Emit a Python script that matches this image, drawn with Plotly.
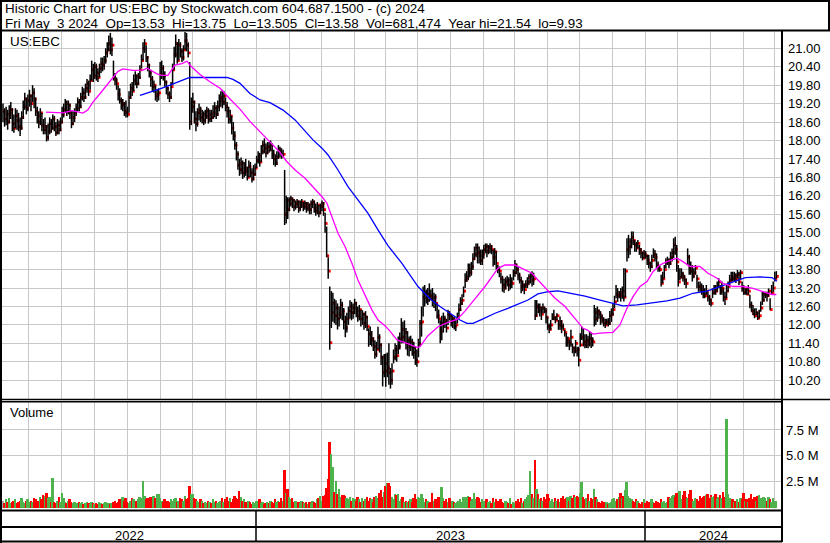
import plotly.graph_objects as go

W, H = 830, 543

# ---------------- data ----------------
high = [
    19.20,19.05,19.10,19.00,19.15,19.25,19.05,18.85,19.05,19.00,18.90,
    18.75,18.95,19.30,19.55,19.40,19.50,19.65,19.50,19.80,19.70,
    19.40,19.10,18.95,19.05,18.90,18.70,18.75,
    18.50,18.55,18.75,18.70,18.85,18.80,18.60,18.70,18.65,18.75,
    19.10,19.20,19.35,19.30,19.30,19.20,18.95,18.95,19.05,
    19.20,19.40,19.35,19.55,19.75,19.70,19.85,20.00,19.95,20.15,
    20.60,20.50,20.55,20.50,20.35,20.50,20.70,
    20.70,20.75,21.00,21.20,21.42,21.50,21.35,
    20.60,20.20,20.05,19.80,19.70,19.40,19.35,19.25,19.30,19.10,
    19.60,19.85,19.90,20.15,20.25,20.15,20.20,20.45,20.80,21.20,21.30,21.10,
    20.75,20.50,20.30,20.10,19.95,19.80,19.65,19.70,
    20.55,20.60,20.45,20.25,19.95,
    19.75,19.60,19.90,20.50,21.05,21.45,21.20,21.30,21.20,
    21.00,21.10,21.54,21.50,21.20,
    20.55,
    19.40,19.55,19.30,18.95,19.05,19.20,19.10,19.00,18.95,19.00,19.10,19.05,19.00,19.00,
    19.15,19.25,19.15,19.30,19.50,19.60,19.65,19.60,19.40,19.25,19.10,19.00,
    18.80,18.60,18.30,17.95,17.65,17.40,17.45,17.35,17.30,
    17.40,17.15,17.35,17.30,17.10,17.20,17.25,
    17.50,17.65,17.60,17.85,18.00,18.07,17.90,17.95,17.95,18.00,17.90,17.70,17.55,17.65,17.85,17.80,17.75,17.70,
    17.04,16.20,16.15,
    16.15,16.20,16.15,16.10,16.05,16.10,16.05,16.05,16.10,16.00,16.05,16.00,16.00,15.95,
    16.05,16.10,16.05,15.95,16.00,15.90,15.95,16.05,16.00,
    15.65,15.20,14.20,
    13.25,
    13.10,13.05,12.85,12.80,12.70,12.60,12.85,12.75,12.55,12.30,12.40,12.60,12.80,12.75,12.70,12.85,12.75,12.60,12.65,
    12.50,12.48,12.40,12.45,12.30,
    11.89,11.95,11.80,11.60,11.50,11.45,
    11.94,11.70,11.40,11.00,11.05,11.07,11.10,11.40,10.60,10.75,
    11.20,11.40,11.35,11.62,11.75,
    12.22,12.10,12.15,11.90,11.80,11.62,11.65,11.55,
    11.45,11.30,11.20,
    11.55,12.16,12.60,
    13.25,13.30,13.15,13.20,13.35,13.15,13.20,13.05,13.00,
    12.70,12.50,12.15,12.30,
    12.40,12.30,12.20,12.49,12.45,12.35,12.30,12.25,12.20,
    12.40,12.70,12.90,13.00,13.25,13.68,13.75,
    14.00,14.00,14.05,14.33,14.55,14.65,14.65,
    14.55,14.45,14.45,14.60,14.65,14.65,14.60,14.66,14.60,14.45,14.50,14.40,
    13.95,13.90,13.70,13.60,13.50,13.55,13.60,13.55,13.65,13.55,
    13.80,14.11,14.00,13.90,
    13.70,13.57,13.45,13.35,13.45,13.55,13.65,13.68,13.75,13.70,
    12.81,12.81,12.70,12.70,12.60,12.70,12.60,
    12.55,12.27,12.05,12.16,12.38,12.49,12.27,12.38,
    12.16,12.27,12.16,12.05,11.84,11.73,11.62,11.51,11.84,
    11.40,11.29,11.51,11.29,11.29,11.73,11.94,11.89,11.70,
    11.70,11.65,11.80,11.75,11.60,
    12.65,12.55,12.60,12.50,12.45,12.35,12.25,12.20,12.20,12.22,12.45,12.54,
    12.70,12.95,13.30,13.20,13.10,13.20,13.25,13.84,13.84,
    14.82,14.93,14.82,15.04,15.04,
    14.76,14.70,14.76,14.60,14.50,14.38,14.44,14.40,14.28,
    14.28,14.06,14.28,14.49,14.44,14.33,14.06,13.95,
    13.63,13.73,13.95,14.17,
    14.22,14.17,14.38,14.49,14.82,14.87,14.60,13.95,13.84,
    13.84,13.73,13.63,13.52,14.49,14.28,
    14.06,13.95,13.84,13.95,13.63,13.41,13.41,13.35,
    13.30,13.19,13.30,13.08,12.98,12.87,13.19,13.30,13.30,
    13.41,13.52,13.30,13.41,13.19,13.08,13.30,13.41,13.63,13.73,13.73,
    13.73,13.68,13.79,13.73,13.79,13.41,
    13.30,13.19,13.19,13.30,12.98,12.76,
    12.65,12.54,12.54,12.43,12.49,12.76,13.08,
    13.08,13.08,13.08,13.19,12.87,13.30,13.41,13.73,13.75,
]

low = [
    18.60,18.45,18.50,18.35,18.55,18.70,18.30,18.25,18.40,18.35,18.30,
    18.15,18.35,18.70,19.00,18.85,18.95,19.10,18.95,19.25,19.05,
    18.80,18.55,18.40,18.50,18.30,18.20,18.20,
    17.97,18.00,18.20,18.25,18.35,18.30,18.15,18.20,18.20,18.30,
    18.55,18.75,18.90,18.80,18.85,18.70,18.40,18.50,18.60,
    18.80,18.95,18.95,19.05,19.30,19.25,19.35,19.55,19.45,19.65,
    19.95,19.90,20.00,19.95,19.90,20.05,20.20,
    20.25,20.30,20.50,20.70,20.90,20.80,20.75,
    19.95,19.80,19.65,19.30,19.20,19.00,18.95,18.80,18.75,18.75,
    18.90,19.35,19.45,19.60,19.80,19.70,19.80,20.00,20.35,20.60,20.85,20.55,
    20.25,20.05,19.75,19.60,19.55,19.30,19.25,19.30,
    19.80,20.00,19.95,19.75,19.50,
    19.35,19.25,19.35,19.80,20.30,20.70,20.50,20.60,20.70,
    20.55,20.60,20.95,20.90,20.70,
    18.35,
    18.50,18.90,18.55,18.30,18.45,18.65,18.60,18.55,18.50,18.55,18.70,18.55,18.60,18.60,
    18.70,18.75,18.70,18.80,18.95,19.10,19.05,19.15,18.95,18.75,18.55,18.55,
    18.20,18.00,17.70,17.35,17.05,16.85,16.90,16.75,16.80,
    16.85,16.70,16.80,16.80,16.63,16.70,16.85,
    17.10,17.25,17.15,17.30,17.55,17.58,17.45,17.55,17.60,17.65,17.40,17.20,17.15,17.20,17.40,17.45,17.40,17.45,
    15.25,15.30,15.45,
    15.70,15.85,15.80,15.70,15.75,15.80,15.65,15.70,15.80,15.70,15.75,15.65,15.70,15.60,
    15.60,15.80,15.65,15.55,15.60,15.50,15.60,15.70,15.55,
    15.00,14.20,13.50,
    11.19,
    11.90,12.10,12.05,12.00,11.85,11.95,12.20,12.15,11.85,11.60,11.75,12.00,12.20,12.15,12.20,12.35,12.25,12.10,12.15,
    11.95,12.00,11.84,11.90,11.80,
    11.29,11.35,11.30,11.15,10.90,10.95,
    11.20,11.10,10.70,10.00,10.30,9.99,10.30,10.05,9.93,10.05,
    10.75,10.85,10.80,11.05,11.20,
    11.40,11.40,11.45,11.20,11.00,10.97,11.15,11.00,
    10.90,10.70,10.64,
    10.95,11.29,11.62,
    12.27,12.60,12.70,12.65,12.75,12.80,12.60,12.55,12.45,
    12.20,12.05,11.40,11.50,
    11.75,11.90,11.75,12.00,12.15,11.95,11.90,11.85,11.80,
    12.05,12.27,12.45,12.65,12.90,13.20,13.40,
    13.45,13.55,13.60,13.79,14.11,14.20,14.00,
    14.00,13.95,13.95,14.15,14.33,14.20,14.30,14.33,14.30,13.90,13.95,13.80,
    13.68,13.55,13.35,13.08,13.05,13.15,13.25,13.10,13.15,13.20,
    13.45,13.57,13.65,13.45,
    13.35,13.03,13.10,13.00,13.20,13.20,13.30,13.35,13.25,13.30,
    12.16,12.27,12.38,12.27,12.16,12.38,12.38,
    12.05,11.84,11.73,11.84,12.16,12.16,12.05,12.16,
    11.84,11.84,11.73,11.84,11.62,11.29,11.29,11.18,11.29,
    11.08,10.97,11.08,10.97,10.65,11.29,11.51,11.30,11.24,
    11.25,11.24,11.30,11.25,11.30,
    11.95,12.00,12.10,12.20,12.00,12.05,11.95,11.90,12.00,11.95,12.00,12.10,
    12.30,12.55,12.87,12.75,12.87,12.76,12.85,12.76,12.90,
    14.06,14.17,14.28,14.49,14.60,
    14.38,14.38,14.49,14.28,14.17,14.10,14.17,14.15,13.95,
    13.84,13.73,13.84,14.17,14.06,13.84,13.73,13.73,
    13.25,13.35,13.52,13.84,
    13.95,13.84,13.95,14.06,14.17,14.28,13.73,13.25,13.45,
    13.52,13.41,13.30,13.19,13.95,13.63,
    13.63,13.41,13.52,13.63,13.19,13.08,13.08,12.98,
    12.87,12.87,12.98,12.76,12.65,12.60,12.87,12.98,12.98,
    13.08,13.19,12.98,12.98,12.76,12.65,12.87,13.08,13.30,13.41,13.41,
    13.41,13.36,13.52,13.30,13.46,13.08,
    12.98,12.98,12.98,12.98,12.54,12.43,
    12.32,12.22,12.32,12.16,12.22,12.43,12.65,
    12.76,12.87,12.76,12.92,12.49,12.98,13.08,13.41,13.505,
]

close = [
    18.95,18.70,18.85,18.60,18.90,19.00,18.55,18.40,18.80,18.65,18.45,
    18.40,18.75,19.10,19.35,19.05,19.30,19.45,19.20,19.55,19.35,
    18.95,18.80,18.60,18.90,18.50,18.35,18.45,
    18.10,18.30,18.55,18.40,18.70,18.45,18.25,18.50,18.35,18.60,
    18.85,19.00,19.20,18.95,19.15,18.90,18.55,18.75,18.90,
    19.05,19.25,19.10,19.40,19.55,19.40,19.70,19.85,19.60,19.95,
    20.30,20.10,20.40,20.20,20.05,20.35,20.50,
    20.45,20.60,20.85,20.95,21.15,20.95,21.10,
    20.05,19.95,19.85,19.50,19.30,19.15,19.20,18.95,18.90,18.85,
    19.40,19.70,19.60,19.95,20.10,19.85,20.05,20.30,20.60,21.00,21.15,20.70,
    20.45,20.20,20.00,19.75,19.80,19.45,19.50,19.55,
    20.15,20.35,20.10,19.90,19.70,
    19.50,19.40,19.75,20.30,20.80,21.15,20.60,21.10,20.90,
    20.70,20.95,21.25,21.10,20.85,
    18.60,
    19.10,19.25,18.70,18.55,18.90,19.00,18.75,18.85,18.65,18.80,18.95,18.70,18.85,18.75,
    18.90,19.05,18.85,19.10,19.30,19.40,19.25,19.45,19.10,18.95,18.70,18.80,
    18.40,18.15,17.85,17.55,17.20,17.05,17.25,16.95,17.10,
    17.00,16.80,17.15,16.95,16.75,16.90,17.10,
    17.35,17.50,17.30,17.65,17.85,17.75,17.60,17.80,17.70,17.85,17.55,17.40,17.25,17.45,17.70,17.60,17.50,17.55,
    15.60,16.05,15.75,
    15.95,16.10,16.05,15.85,15.95,16.00,15.80,15.90,16.00,15.85,15.95,15.80,15.90,15.75,
    15.95,16.00,15.80,15.70,15.90,15.65,15.85,15.95,15.75,
    15.30,14.25,13.75,
    11.42,
    12.40,12.70,12.30,12.55,12.20,12.35,12.65,12.45,12.10,11.90,12.20,12.45,12.60,12.40,12.55,12.70,12.45,12.30,12.50,
    12.20,12.35,12.05,12.25,11.95,
    11.70,11.50,11.55,11.30,11.05,11.20,
    11.60,11.35,10.95,10.45,10.75,10.50,10.60,10.45,10.20,10.50,
    10.95,11.20,11.00,11.30,11.55,
    11.85,11.60,11.75,11.40,11.50,11.30,11.45,11.25,
    11.10,10.85,10.80,
    11.40,12.05,12.10,
    12.90,13.05,12.80,13.00,12.95,12.85,12.75,12.90,12.70,
    12.30,12.20,11.80,12.05,
    12.20,12.10,11.90,12.35,12.30,12.10,12.20,11.95,12.00,
    12.25,12.50,12.70,12.80,13.10,13.45,13.55,
    13.80,13.70,13.90,14.15,14.30,14.50,14.35,
    14.25,14.10,14.30,14.45,14.55,14.40,14.50,14.55,14.45,14.20,14.38,14.00,
    13.80,13.75,13.50,13.30,13.20,13.40,13.45,13.30,13.40,13.35,
    13.70,13.95,13.80,13.60,
    13.45,13.25,13.30,13.15,13.30,13.40,13.55,13.62,13.45,13.50,
    12.30,12.60,12.45,12.55,12.35,12.55,12.45,
    12.25,11.95,11.85,12.00,12.20,12.25,12.15,12.30,
    12.00,12.10,11.95,11.85,11.75,11.45,11.55,11.40,11.60,
    11.25,11.15,11.40,11.20,10.85,11.35,11.60,11.45,11.35,
    11.50,11.40,11.55,11.50,11.45,
    12.40,12.20,12.45,12.35,12.25,12.15,12.05,12.00,12.10,12.05,12.30,12.35,
    12.50,12.75,13.00,12.95,13.05,12.95,13.10,12.90,13.75,
    14.45,14.55,14.70,14.85,14.75,
    14.60,14.50,14.65,14.45,14.35,14.17,14.30,14.25,14.10,
    14.00,13.90,14.10,14.30,14.20,13.95,13.85,13.80,
    13.35,13.50,13.80,14.05,
    14.10,14.00,14.20,14.35,14.60,14.45,14.05,13.40,13.55,
    13.65,13.55,13.45,13.35,14.20,13.85,
    13.75,13.60,13.70,13.85,13.50,13.25,13.20,13.10,
    13.00,12.95,13.10,12.90,12.80,12.70,13.05,13.20,13.10,
    13.25,13.40,13.10,13.20,12.90,12.85,13.10,13.25,13.45,13.55,13.50,
    13.60,13.50,13.65,13.40,13.70,13.20,
    13.05,13.15,13.00,13.10,12.65,12.45,
    12.35,12.30,12.40,12.22,12.30,12.55,12.80,
    13.00,13.03,12.95,13.10,12.50,13.05,13.20,13.50,13.58,
]

# daily volume, millions of shares
volume_m = [
    0.7,0.5,0.8,0.6,0.9,0.5,0.6,0.7,0.8,0.5,
    0.6,0.7,0.9,0.6,0.5,0.7,0.8,0.6,0.7,0.6,
    0.9,0.8,0.6,0.7,1.0,0.8,1.2,1.1,1.4,0.9,
    1.0,0.6,2.9,0.6,0.5,0.7,1.0,0.6,1.4,0.9,
    0.6,0.5,0.7,0.8,0.6,0.5,0.6,0.4,0.5,0.6,
    0.5,0.6,0.4,0.5,0.6,0.5,0.4,0.6,0.5,0.4,
    0.5,0.4,0.6,0.5,0.4,0.5,0.6,0.4,0.5,0.4,
    0.5,0.6,0.7,0.5,0.6,0.8,0.6,1.0,0.7,0.9,
    0.6,0.5,0.7,0.9,0.8,0.6,0.7,0.8,1.0,0.9,
    2.6,1.1,0.8,0.9,0.7,1.0,0.8,1.1,0.9,1.3,
    1.3,0.9,0.7,0.6,0.8,0.5,0.7,0.6,0.8,0.7,
    0.8,0.9,0.6,0.7,0.9,0.8,0.7,1.1,0.8,0.9,
    2.1,1.3,1.3,0.9,0.8,0.7,0.6,0.8,0.7,0.5,
    0.6,0.5,0.7,0.6,0.5,0.8,0.6,0.7,0.5,0.6,
    0.7,0.9,0.6,0.8,1.0,0.7,0.9,0.6,0.8,1.1,
    0.9,0.8,1.6,1.0,0.7,0.8,0.6,0.5,0.7,0.6,
    0.4,0.6,0.5,0.7,0.6,0.8,0.5,0.6,0.4,0.5,
    0.6,0.5,0.7,0.6,0.5,0.8,0.6,0.7,0.6,0.9,
    0.7,3.6,1.4,1.8,1.0,0.8,0.9,0.6,0.7,0.5,
    0.6,0.5,0.7,0.6,0.5,0.6,0.4,0.6,0.5,0.7,
    0.6,0.5,0.8,0.9,1.1,0.7,1.1,1.2,1.9,2.8,
    6.3,5.2,3.9,1.5,2.6,1.3,1.8,1.0,1.2,1.2,
    1.1,0.9,0.8,1.0,0.7,0.9,0.8,0.7,1.0,0.8,
    0.6,0.9,0.7,0.8,1.0,0.7,0.9,0.8,0.6,1.0,
    1.1,0.9,1.4,1.7,1.0,1.5,2.1,2.4,2.4,2.1,
    1.0,0.8,1.3,1.2,1.3,0.7,0.8,1.0,0.6,0.7,
    0.6,0.7,0.8,0.6,0.9,1.3,0.8,1.0,0.9,1.3,
    0.9,0.6,0.8,0.7,0.5,0.6,1.4,0.7,0.8,0.6,
    1.0,0.8,2.0,0.9,0.7,0.8,0.6,0.9,0.5,0.7,
    0.6,0.5,0.6,0.7,0.8,0.6,1.0,0.9,1.0,1.1,
    1.0,0.7,0.8,1.4,0.8,1.0,0.9,0.6,0.8,0.7,
    0.5,0.8,0.6,0.7,0.5,0.9,0.6,0.8,0.7,0.5,
    0.8,0.6,0.5,0.7,0.6,0.5,0.9,0.4,0.6,0.5,
    0.7,0.8,0.6,0.9,0.5,0.7,0.8,1.0,1.2,3.5,
    1.3,0.9,4.6,1.8,1.3,0.8,0.9,0.7,1.0,0.8,
    1.3,0.9,0.7,0.8,0.6,0.9,0.7,0.8,0.6,0.9,
    1.1,0.8,0.9,1.0,0.7,1.1,0.9,1.2,1.0,1.1,
    1.0,1.4,2.5,1.0,0.8,0.9,1.3,0.7,0.9,0.8,
    1.8,1.0,0.8,0.6,0.5,0.7,0.6,0.5,0.6,0.4,
    0.5,0.6,0.8,0.9,0.7,0.8,1.0,1.4,0.9,1.1,
    1.7,2.5,1.1,0.9,0.8,0.7,0.6,0.8,0.7,0.5,
    0.4,0.6,0.8,0.5,0.7,0.6,0.5,0.8,0.6,0.5,
    0.7,0.6,0.5,0.8,0.6,0.7,0.5,0.6,1.0,0.9,
    1.1,1.2,1.0,1.4,1.1,1.6,0.8,1.2,1.6,1.0,
    0.9,1.3,1.7,0.8,0.7,0.9,0.8,0.7,1.1,0.9,
    1.0,1.1,1.2,1.3,0.9,1.2,1.0,1.1,1.3,0.8,
    1.0,1.2,0.9,1.5,1.0,8.6,1.3,0.9,0.7,0.8,
    0.6,0.7,0.8,0.6,0.9,0.8,1.4,0.7,0.8,0.6,
    0.9,1.3,0.8,1.0,0.7,1.1,1.2,0.9,0.8,1.0,
    0.9,0.7,1.0,0.8,0.6,0.9,0.7,0.7,
]

# moving averages (bar position, price)
ma_fast_x = [27.6,38.6,44.3,51.4,54.6,57.8,62.3,66.8,70.7,73.9,77.1,83.5,90,92.5,99,102.2,106,108.6,110.5,115,
             118.3,120.2,124.7,126.6,133,139.5,145.9,152.3,158.7,165.2,171.6,177.4,182.5,187.7,194.1,199.2,205,208.2,
             211.4,215.3,219.8,224.3,228.1,232.6,237.1,241,245.5,248.7,253.2,259.6,266.1,268,273.1,279.6,286,291.8,
             296.9,303.3,309.8,314.3,318.1,322.6,329,333.5,340,343.8,349.6,354.8,361.2,367.7,372.8,375.4,379.2,383.7,
             392,396.5,401,404.9,409.4,413.9,417.7,422.2,426.7,433.2,437,441.5,447.9,453.1,458.9,462.7,469.2,475.6,
             482,488.4,494.2,497]
ma_fast_y = [18.92,18.90,18.97,18.89,19.00,19.25,19.52,19.80,20.07,20.25,20.33,20.28,20.29,20.35,20.17,20.12,20.12,
             20.29,20.45,20.50,20.58,20.45,20.25,20.15,19.91,19.70,19.35,19.02,18.62,18.28,17.95,17.65,17.31,17.04,
             16.77,16.50,16.17,15.96,15.52,14.98,14.55,14.00,13.46,12.97,12.49,12.16,11.97,11.80,11.51,11.40,11.27,
             11.29,11.65,11.94,12.08,12.18,12.45,12.85,13.25,13.57,13.84,13.95,13.95,13.84,13.68,13.46,13.14,12.87,
             12.60,12.21,11.89,11.84,11.70,11.73,11.76,12.00,12.54,12.92,13.25,13.41,13.73,13.95,14.06,14.17,14.06,
             13.90,13.90,13.68,13.52,13.35,13.25,13.25,13.19,13.08,12.99,12.99]
ma_slow_x = [88,94.5,100.9,107.3,113.8,118.3,120.2,144,147.8,152.3,158.7,165.2,171.6,177.4,180,187.7,194.1,199.2,205,
             208.9,215.3,221.7,228.1,234.6,241,247.4,256.4,261.6,266.7,274.4,280.8,287.3,293.7,298.2,302.1,307.8,316.2,
             324.5,331,337.4,343.8,350.3,356.7,365.7,374,383.7,392,398.5,407.5,415.8,426.7,435.1,443.4,452.4,460.8,
             469.2,477.1,486.5,494.2,497.4]
ma_slow_y = [19.47,19.57,19.68,19.80,19.94,20.02,20.05,20.05,19.99,19.86,19.53,19.32,19.23,19.08,18.99,18.67,18.29,
             18.02,17.75,17.53,17.04,16.50,16.07,15.63,15.09,14.58,14.00,13.60,13.25,12.85,12.60,12.38,12.16,12.05,
             12.05,12.18,12.38,12.54,12.68,12.81,13.01,13.08,13.11,13.03,12.94,12.81,12.70,12.62,12.65,12.70,12.78,
             12.87,13.03,13.10,13.25,13.41,13.54,13.56,13.54,13.42]

month_grid = [16.7,37.9,58.5,79.7,100.9,121.5,142.7,162.6,184.4,205.0,225.6,246.1,266.7,287.3,308.5,
              329.0,350.2,370.8,391.4,412.6,433.8,455.0,475.6,496.1]
year_labels = ["2022", "2023", "2024"]
year_bounds = [-0.64, 162.6, 412.6, 500.0]
price_ticks = [10.20,10.80,11.40,12.00,12.60,13.20,13.80,14.40,15.00,15.60,16.20,16.80,17.40,18.00,18.60,19.20,19.80,20.40,21.00]
vol_ticks = [2.5, 5.0, 7.5]
vol_tick_text = ["2.5 M", "5.0 M", "7.5 M"]

header1 = "Historic Chart for US:EBC by Stockwatch.com 604.687.1500 - (c) 2024"
header2 = ("Fri May\u00a0\u00a03 2024\u00a0\u00a0Op=13.53\u00a0\u00a0Hi=13.75\u00a0\u00a0Lo=13.505\u00a0\u00a0"
           "Cl=13.58\u00a0\u00a0Vol=681,474\u00a0\u00a0Year hi=21.54\u00a0\u00a0lo=9.93")
symbol = "US:EBC"

# ---------------- figure ----------------
FONT = "Liberation Sans, Arial, sans-serif"
n = min(len(high), len(low), len(close))


def fx(px):
    return px / W


def fy(py):
    return 1 - py / H


bar_x, bar_y = [], []
for i in range(n):
    bar_x += [i, i, None]
    bar_y += [low[i], high[i], None]

nv = min(len(volume_m), n)
vcolors = []
for i in range(nv):
    if i == 0 or close[i] == close[i - 1]:
        vcolors.append("#A8A8A8")
    elif close[i] > close[i - 1]:
        vcolors.append("#4DB34D")
    else:
        vcolors.append("#FF0000")

fig = go.Figure()

# close ticks drawn first, slightly right of each bar, so the next bar partly covers them
fig.add_trace(go.Scatter(x=[i + 0.7 for i in range(n)], y=close[:n], mode="markers",
                         marker=dict(symbol="square", size=2.8, color="#FF0000", line=dict(width=0)),
                         hoverinfo="skip", xaxis="x", yaxis="y"))
fig.add_trace(go.Scatter(x=bar_x, y=bar_y, mode="lines", line=dict(color="black", width=1.5),
                         hoverinfo="skip", xaxis="x", yaxis="y", connectgaps=False))
m = min(len(ma_slow_x), len(ma_slow_y))
fig.add_trace(go.Scatter(x=ma_slow_x[:m], y=ma_slow_y[:m], mode="lines",
                         line=dict(color="#0000FF", width=1.3), hoverinfo="skip", xaxis="x", yaxis="y"))
m = min(len(ma_fast_x), len(ma_fast_y))
fig.add_trace(go.Scatter(x=ma_fast_x[:m], y=ma_fast_y[:m], mode="lines",
                         line=dict(color="#FF00FF", width=1.3), hoverinfo="skip", xaxis="x", yaxis="y"))
fig.add_trace(go.Bar(x=list(range(nv)), y=volume_m[:nv], marker=dict(color=vcolors, line=dict(width=0)),
                     width=1.25, hoverinfo="skip", xaxis="x2", yaxis="y2"))

grid = "#C8C8C8"
xr = [year_bounds[0], year_bounds[-1]]
common_x = dict(range=xr, domain=[fx(2), fx(781)], tickvals=month_grid, showticklabels=False,
                ticks="", showgrid=True, gridcolor=grid, gridwidth=1, zeroline=False, showline=False,
                fixedrange=True)

fig.update_layout(
    width=W, height=H, margin=dict(l=0, r=0, t=0, b=0),
    paper_bgcolor="white", plot_bgcolor="white", showlegend=False,
    bargap=0, hovermode=False,
    font=dict(family=FONT, size=13, color="black"),
    xaxis=dict(**common_x, anchor="y"),
    xaxis2=dict(**common_x, anchor="y2", matches="x"),
    yaxis=dict(domain=[fy(399), fy(32)], range=[9.59, 21.53], side="right", anchor="x",
               tickvals=price_ticks, ticktext=["%.2f" % v for v in price_ticks],
               showgrid=True, gridcolor=grid, gridwidth=1, zeroline=False, ticks="",
               ticklabelstandoff=6, tickfont=dict(family=FONT, size=13, color="black"), fixedrange=True),
    yaxis2=dict(domain=[fy(509), fy(402)], range=[-0.12, 10.2], side="right", anchor="x2",
                tickvals=vol_ticks, ticktext=vol_tick_text,
                showgrid=True, gridcolor=grid, gridwidth=1, zeroline=False, ticks="",
                ticklabelstandoff=4, tickfont=dict(family=FONT, size=13, color="black"), fixedrange=True),
)

shapes = []


def hline(py, x0, x1, w=2):
    shapes.append(dict(type="line", xref="paper", yref="paper", x0=fx(x0), x1=fx(x1), y0=fy(py), y1=fy(py),
                       line=dict(color="black", width=w), layer="above"))


def vline(px, y0, y1, w=2):
    shapes.append(dict(type="line", xref="paper", yref="paper", x0=fx(px), x1=fx(px), y0=fy(y0), y1=fy(y1),
                       line=dict(color="black", width=w), layer="above"))


vline(1, 0, 543)
hline(1, 0, 830)
vline(829, 0, 31)
hline(30.5, 0, 830)
vline(782, 30, 542)
hline(399.5, 0, 830, 1.5)
hline(401.8, 0, 782, 1.5)
hline(510.5, 0, 782)
hline(527, 0, 782)
hline(541.5, 0, 782)
for b in year_bounds[1:-1]:
    shapes.append(dict(type="line", xref="x", yref="paper", x0=b, x1=b, y0=fy(510), y1=fy(541),
                       line=dict(color="black", width=1.5), layer="above"))
fig.update_layout(shapes=shapes)

ann = []
ann.append(dict(text=header1, x=fx(3), y=fy(9), xref="paper", yref="paper", xanchor="left", yanchor="middle",
                showarrow=False, font=dict(family=FONT, size=13.4, color="black")))
ann.append(dict(text=header2, x=fx(3), y=fy(23), xref="paper", yref="paper", xanchor="left", yanchor="middle",
                showarrow=False, font=dict(family=FONT, size=13.4, color="black")))
ann.append(dict(text=symbol, x=fx(8), y=fy(41), xref="paper", yref="paper", xanchor="left", yanchor="middle",
                showarrow=False, font=dict(family=FONT, size=13.4, color="black")))
ann.append(dict(text="Volume", x=fx(8), y=fy(413), xref="paper", yref="paper", xanchor="left", yanchor="middle",
                showarrow=False, font=dict(family=FONT, size=13, color="black")))
for k, lab in enumerate(year_labels):
    xm = (year_bounds[k] + year_bounds[k + 1]) / 2
    ann.append(dict(text=lab, x=xm, y=fy(535), xref="x", yref="paper", xanchor="center", yanchor="middle",
                    showarrow=False, font=dict(family=FONT, size=13, color="black")))
fig.update_layout(annotations=ann)

fig.write_html("out.html", config={"displayModeBar": False},
               post_script="document.body.style.margin='0';document.body.style.overflow='hidden';")
